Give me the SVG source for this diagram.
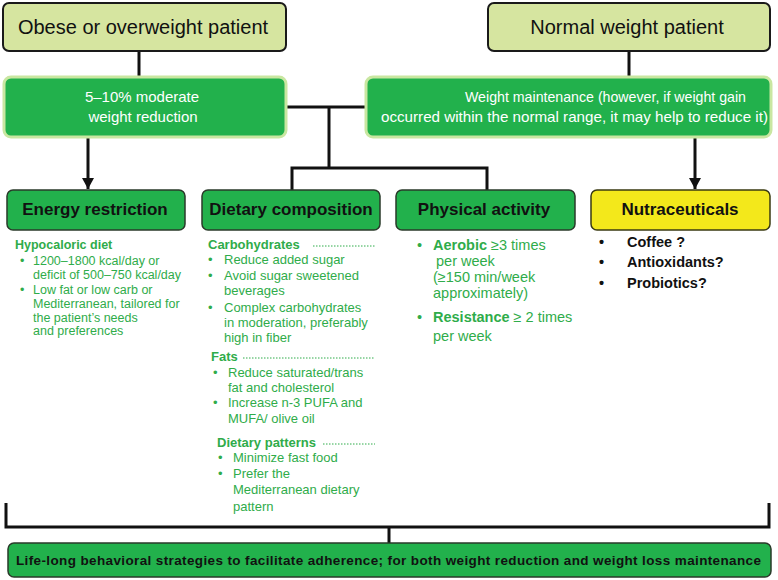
<svg xmlns="http://www.w3.org/2000/svg" width="778" height="580" viewBox="0 0 778 580">
<defs>
<marker id="ah" markerUnits="userSpaceOnUse" markerWidth="13" markerHeight="12" refX="11" refY="6" orient="auto">
<path d="M0,0 L11,6 L0,12 Z" fill="#111"/>
</marker>
<style>
.top{fill:#d6e5a0;stroke:#1a1a1a;stroke-width:2}
.gbox{fill:#22b14c;stroke:#c9e7a1;stroke-width:3}
.hbox{fill:#22b14c;stroke:#2a3a2a;stroke-width:1.5}
.ybox{fill:#f3e81b;stroke:#3a3a12;stroke-width:1.5}
.ln{stroke:#111;stroke-width:3;fill:none}
.dot{stroke:#2fac4a;stroke-width:1;stroke-dasharray:1.5 1.5;fill:none}
text{font-family:"Liberation Sans",Arial,sans-serif}
.tt{font-size:20px;fill:#111;text-anchor:middle}
.wt{font-size:15px;fill:#fff}
.ht{font-size:17px;font-weight:bold;fill:#111;text-anchor:middle}
.g13{font-size:13px;fill:#2fac4a}
.g12{font-size:12.5px;fill:#2fac4a}
.g15{font-size:14.5px;fill:#2fac4a}
.b{font-weight:bold}
.nt{font-size:14.5px;font-weight:bold;fill:#111}
.bt{font-size:13.5px;font-weight:bold;fill:#111}
</style>
</defs>

<g id="connectors">
<line class="ln" x1="139" y1="51" x2="139" y2="77"/>
<line class="ln" x1="629" y1="51" x2="629" y2="77"/>
<line class="ln" x1="286" y1="107" x2="366" y2="107"/>
<line class="ln" x1="329" y1="107" x2="329" y2="168"/>
<polyline class="ln" points="292,190 292,168 487,168 487,190"/>
<line class="ln" x1="88" y1="138" x2="88" y2="189" marker-end="url(#ah)"/>
<line class="ln" x1="695" y1="138" x2="695" y2="189" marker-end="url(#ah)"/>
<polyline class="ln" points="6,503 6,527 769,527 769,503"/>
<line class="ln" x1="389" y1="527" x2="389" y2="543"/>
</g>

<g id="obese">
<rect class="top" x="3" y="3" width="283" height="48" rx="6"/>
<text class="tt" x="143" y="34">Obese or overweight patient</text>
</g>
<g id="normal">
<rect class="top" x="488" y="3" width="282" height="48" rx="6"/>
<text class="tt" x="627" y="34">Normal weight patient</text>
</g>

<g id="reduction">
<rect class="gbox" x="4" y="77" width="282" height="60" rx="7"/>
<text class="wt" x="142" y="102" text-anchor="middle">5–10% moderate</text>
<text class="wt" x="143" y="122" text-anchor="middle">weight reduction</text>
</g>
<g id="maintenance">
<rect class="gbox" x="366" y="77" width="405" height="60" rx="7"/>
<text class="wt" x="465" y="102" textLength="281" lengthAdjust="spacingAndGlyphs">Weight maintenance (however, if weight gain</text>
<text class="wt" x="381" y="122" textLength="387" lengthAdjust="spacingAndGlyphs">occurred within the normal range, it may help to reduce it)</text>
</g>

<g id="energy">
<rect class="hbox" x="7" y="190" width="178" height="40" rx="6"/>
<text class="ht" x="95" y="215">Energy restriction</text>
<text class="g12 b" x="15" y="249">Hypocaloric diet</text>
<text class="g12" x="20" y="265">•</text>
<text class="g12" x="33" y="265">1200–1800 kcal/day or</text>
<text class="g12" x="33" y="279">deficit of 500–750 kcal/day</text>
<text class="g12" x="20" y="294">•</text>
<text class="g12" x="33" y="294">Low fat or low carb or</text>
<text class="g12" x="33" y="308">Mediterranean, tailored for</text>
<text class="g12" x="33" y="321.5">the patient’s needs</text>
<text class="g12" x="33" y="335">and preferences</text>
</g>

<g id="dietary">
<rect class="hbox" x="202" y="190" width="178" height="40" rx="6"/>
<text class="ht" x="291" y="215">Dietary composition</text>
<text class="g13 b" x="208" y="249">Carbohydrates</text>
<line class="dot" x1="313" y1="246" x2="375" y2="246"/>
<text class="g13" x="208" y="264">•</text>
<text class="g13" x="224" y="264">Reduce added sugar</text>
<text class="g13" x="208" y="280">•</text>
<text class="g13" x="224" y="280">Avoid sugar sweetened</text>
<text class="g13" x="224" y="295">beverages</text>
<text class="g13" x="208" y="312">•</text>
<text class="g13" x="224" y="312">Complex carbohydrates</text>
<text class="g13" x="224" y="327">in moderation, preferably</text>
<text class="g13" x="224" y="342">high in fiber</text>
<text class="g13 b" x="211" y="361">Fats</text>
<line class="dot" x1="243" y1="358" x2="375" y2="358"/>
<text class="g13" x="213" y="377">•</text>
<text class="g13" x="228" y="377">Reduce saturated/trans</text>
<text class="g13" x="228" y="392">fat and cholesterol</text>
<text class="g13" x="213" y="407">•</text>
<text class="g13" x="228" y="407">Increase n-3 PUFA and</text>
<text class="g13" x="228" y="423">MUFA/ olive oil</text>
<text class="g13 b" x="217" y="447">Dietary patterns</text>
<line class="dot" x1="323" y1="444" x2="375" y2="444"/>
<text class="g13" x="218" y="462">•</text>
<text class="g13" x="233" y="462">Minimize fast food</text>
<text class="g13" x="218" y="478">•</text>
<text class="g13" x="233" y="478">Prefer the</text>
<text class="g13" x="233" y="494">Mediterranean dietary</text>
<text class="g13" x="233" y="511">pattern</text>
</g>

<g id="physical">
<rect class="hbox" x="396" y="190" width="179" height="40" rx="6"/>
<text class="ht" x="484" y="215">Physical activity</text>
<text class="g15" x="417" y="250">•</text>
<text class="g15" x="433" y="250"><tspan class="b">Aerobic</tspan> ≥3 times</text>
<text class="g15" x="436" y="266">per week</text>
<text class="g15" x="433" y="282">(≥150 min/week</text>
<text class="g15" x="433" y="298">approximately)</text>
<text class="g15" x="417" y="322">•</text>
<text class="g15" x="433" y="322"><tspan class="b">Resistance</tspan> ≥ 2 times</text>
<text class="g15" x="433" y="341">per week</text>
</g>

<g id="nutraceuticals">
<rect class="ybox" x="591" y="190" width="179" height="40" rx="6"/>
<text class="ht" x="680" y="215">Nutraceuticals</text>
<text class="nt" x="599" y="247" font-weight="normal">•</text>
<text class="nt" x="627" y="247">Coffee ?</text>
<text class="nt" x="599" y="267" font-weight="normal">•</text>
<text class="nt" x="627" y="267">Antioxidants?</text>
<text class="nt" x="599" y="288" font-weight="normal">•</text>
<text class="nt" x="627" y="288">Probiotics?</text>
</g>

<g id="lifelong">
<rect class="hbox" x="8" y="543" width="763" height="34" rx="6"/>
<text class="bt" x="16" y="565" textLength="745" lengthAdjust="spacing">Life-long behavioral strategies to facilitate adherence; for both weight reduction and weight loss maintenance</text>
</g>
</svg>
